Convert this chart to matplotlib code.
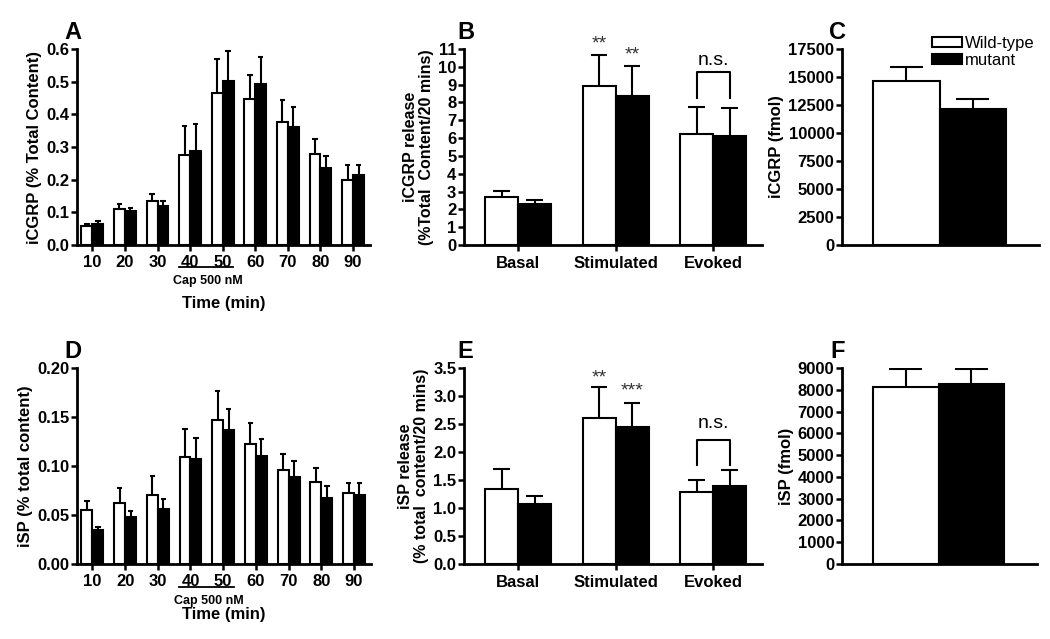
import matplotlib
matplotlib.use("Agg")
import matplotlib.pyplot as plt
import numpy as np
from matplotlib.patches import Patch

plt.rcParams['font.family'] = ['Liberation Sans', 'DejaVu Sans']

# ---------------- data ----------------
time_labels = ["10", "20", "30", "40", "50", "60", "70", "80", "90"]

cgrp_time_wt = [0.057, 0.110, 0.136, 0.275, 0.466, 0.448, 0.378, 0.279, 0.200]
cgrp_time_wt_sem = [0.008, 0.017, 0.020, 0.090, 0.102, 0.072, 0.065, 0.047, 0.046]
cgrp_time_mut = [0.064, 0.105, 0.120, 0.289, 0.501, 0.494, 0.361, 0.237, 0.215]
cgrp_time_mut_sem = [0.009, 0.009, 0.015, 0.082, 0.093, 0.083, 0.062, 0.034, 0.029]

sp_time_wt = [0.055, 0.062, 0.0705, 0.109, 0.147, 0.122, 0.096, 0.0835, 0.072]
sp_time_wt_sem = [0.009, 0.016, 0.0195, 0.029, 0.030, 0.0215, 0.016, 0.0145, 0.011]
sp_time_mut = [0.035, 0.048, 0.0565, 0.107, 0.1365, 0.110, 0.089, 0.067, 0.0705]
sp_time_mut_sem = [0.003, 0.006, 0.0095, 0.022, 0.022, 0.018, 0.0165, 0.013, 0.0125]

conditions = ["Basal", "Stimulated", "Evoked"]
cgrp_rel_wt = [2.68, 8.91, 6.22]
cgrp_rel_wt_sem = [0.35, 1.76, 1.55]
cgrp_rel_mut = [2.32, 8.39, 6.10]
cgrp_rel_mut_sem = [0.19, 1.65, 1.58]
cgrp_rel_stars_wt = ["", "**", ""]
cgrp_rel_stars_mut = ["", "**", ""]

sp_rel_wt = [1.34, 2.61, 1.29]
sp_rel_wt_sem = [0.35, 0.55, 0.21]
sp_rel_mut = [1.08, 2.45, 1.39]
sp_rel_mut_sem = [0.14, 0.43, 0.29]
sp_rel_stars_wt = ["", "**", ""]
sp_rel_stars_mut = ["", "***", ""]

cgrp_content = [14670, 12160]
cgrp_content_sem = [1250, 870]
sp_content = [8115, 8254]
sp_content_sem = [830, 700]

series_labels = ["Wild-type", "mutant"]

# ---------------- figure ----------------
W, H = 1050, 639
fig = plt.figure(figsize=(W / 100, H / 100), dpi=100)


def rect(x0, x1, ytop, ybot):
    return [x0 / W, 1 - ybot / H, (x1 - x0) / W, (ybot - ytop) / H]


LW = 1.5
TICK_FS = 12
LABEL_FS = 12
LETTER_FS = 17
LETTER_Y = 1.085


def style(ax):
    for s in ["top", "right"]:
        ax.spines[s].set_visible(False)
    for s in ["left", "bottom"]:
        ax.spines[s].set_linewidth(2.0)
    ax.tick_params(direction="out", length=4, width=1.8, labelsize=TICK_FS, pad=1.5)
    for lab in ax.get_yticklabels() + ax.get_xticklabels():
        lab.set_fontweight("bold")


def errbars(ax, x, vals, sems, w):
    x = np.asarray(x, float)
    vals = np.asarray(vals, float)
    tops = vals + np.asarray(sems, float)
    ax.vlines(x, vals, tops, color="black", lw=LW, zorder=1)
    ax.hlines(tops, x - w / 4, x + w / 4, color="black", lw=LW, zorder=1)


def grouped(ax, wt, wt_sem, mut, mut_sem, w):
    x = np.arange(len(wt))
    ax.bar(x - w / 2, wt, w, color="white", edgecolor="black", lw=LW, zorder=2)
    ax.bar(x + w / 2, mut, w, color="black", edgecolor="black", lw=LW, zorder=2)
    errbars(ax, x - w / 2, wt, wt_sem, w)
    errbars(ax, x + w / 2, mut, mut_sem, w)
    return x


def letter_text(ax, letter, xfrac):
    ax.text(xfrac, LETTER_Y, letter, transform=ax.transAxes, ha="center",
            va="center", fontsize=LETTER_FS, fontweight="bold")


def time_panel(r, wt, wt_sem, mut, mut_sem, ylim, yticks, fmt, ylabel, letter,
               line_y, cap_y, xlabel_y):
    ax = fig.add_axes(r)
    w = 0.335
    x = grouped(ax, wt, wt_sem, mut, mut_sem, w)
    ax.set_xlim(-0.47, 8.52)
    ax.set_ylim(*ylim)
    ax.set_yticks(yticks)
    ax.set_yticklabels([fmt.format(t) for t in yticks])
    ax.set_xticks(x)
    ax.set_xticklabels(time_labels)
    style(ax)
    ax.tick_params(axis="x", pad=3)
    ax.set_ylabel(ylabel, fontsize=LABEL_FS, fontweight="bold", labelpad=3)
    tr = ax.get_xaxis_transform()
    ax.plot([x[3] - 0.34, x[4] + 0.32], [line_y, line_y], color="black", lw=1.3,
            transform=tr, clip_on=False)
    ax.text((x[3] + x[4]) / 2 + 0.05, cap_y, "Cap 500 nM", transform=tr,
            ha="center", va="center", fontsize=9, fontweight="bold")
    ax.text(0.5, xlabel_y, "Time (min)", transform=ax.transAxes, ha="center",
            va="center", fontsize=LABEL_FS, fontweight="bold")
    letter_text(ax, letter, -0.015)
    return ax


def release_panel(r, wt, wt_sem, mut, mut_sem, ylim, yticks, fmt, ylabel, letter,
                  stars_wt, stars_mut, star_y_wt, star_y_mut, ns_top, ns_leg, ns_text):
    ax = fig.add_axes(r)
    w = 0.338
    x = grouped(ax, wt, wt_sem, mut, mut_sem, w)
    ax.set_xlim(-0.554, 2.50)
    ax.set_ylim(*ylim)
    ax.set_yticks(yticks)
    ax.set_yticklabels([fmt.format(t) for t in yticks])
    ax.set_xticks(x)
    ax.set_xticklabels(conditions)
    style(ax)
    ax.tick_params(axis="x", pad=4)
    ax.set_ylabel(ylabel, fontsize=11.5, fontweight="bold", labelpad=3,
                  linespacing=1.05)
    for i in range(len(x)):
        if stars_wt[i]:
            ax.text(x[i] - w / 2, star_y_wt, stars_wt[i], ha="center", va="center",
                    fontsize=14, color="#333333", clip_on=False)
        if stars_mut[i]:
            ax.text(x[i] + w / 2, star_y_mut, stars_mut[i], ha="center",
                    va="center", fontsize=14, color="#333333", clip_on=False)
    xa, xb = x[2] - w / 2, x[2] + w / 2
    ax.plot([xa, xa, xb, xb], [ns_leg, ns_top, ns_top, ns_leg], color="black",
            lw=LW, clip_on=False)
    ax.text(x[2], ns_text, "n.s.", ha="center", va="center", fontsize=14)
    letter_text(ax, letter, 0.005)
    return ax


def content_panel(r, vals, sems, ylim, yticks, ylabel, letter):
    ax = fig.add_axes(r)
    x = np.arange(len(vals))
    w = 1.0
    ax.bar(x[0], vals[0], w, color="white", edgecolor="black", lw=LW, zorder=2)
    ax.bar(x[1], vals[1], w, color="black", edgecolor="black", lw=LW, zorder=2)
    errbars(ax, x, vals, sems, w)
    ax.set_xlim(-0.97, 2.0)
    ax.set_ylim(*ylim)
    ax.set_yticks(yticks)
    ax.set_xticks([])
    style(ax)
    ax.set_ylabel(ylabel, fontsize=LABEL_FS, fontweight="bold", labelpad=3)
    letter_text(ax, letter, -0.025)
    return ax


time_panel(rect(77, 370, 49, 245), cgrp_time_wt, cgrp_time_wt_sem, cgrp_time_mut,
           cgrp_time_mut_sem, (0, 0.6), np.arange(0, 0.61, 0.1), "{:.1f}",
           "iCGRP (% Total Content)", "A", -0.112, -0.184, -0.296)
time_panel(rect(77, 371, 368, 564), sp_time_wt, sp_time_wt_sem, sp_time_mut,
           sp_time_mut_sem, (0, 0.20), np.arange(0, 0.201, 0.05), "{:.2f}",
           "iSP (% total content)", "D", -0.117, -0.189, -0.26)

release_panel(rect(464, 762, 49, 245), cgrp_rel_wt, cgrp_rel_wt_sem, cgrp_rel_mut,
              cgrp_rel_mut_sem, (0, 11), np.arange(0, 12, 1), "{:d}",
              "iCGRP release\n(%Total  Content/20 mins)", "B",
              cgrp_rel_stars_wt, cgrp_rel_stars_mut, 11.3, 10.66, 9.7, 8.24, 10.35)
release_panel(rect(464, 762, 368, 564), sp_rel_wt, sp_rel_wt_sem, sp_rel_mut,
              sp_rel_mut_sem, (0, 3.5), np.arange(0, 3.51, 0.5), "{:.1f}",
              "iSP release\n(% total  content/20 mins)", "E",
              sp_rel_stars_wt, sp_rel_stars_mut, 3.33, 3.09, 2.21, 1.77, 2.5)

axC = content_panel(rect(842, 1039, 49, 245), cgrp_content, cgrp_content_sem,
                    (0, 17500), np.arange(0, 17501, 2500), "iCGRP (fmol)", "C")
content_panel(rect(842, 1037, 368, 564), sp_content, sp_content_sem,
              (0, 9000), np.arange(0, 9001, 1000), "iSP (fmol)", "F")

handles = [Patch(facecolor="white", edgecolor="black", lw=1.5),
           Patch(facecolor="black", edgecolor="black", lw=1.5)]
axC.legend(handles, series_labels, loc="upper left",
           bbox_to_anchor=(932 / W, 1 - 36 / H), bbox_transform=fig.transFigure,
           frameon=False, fontsize=12, handlelength=1.8, handleheight=0.55,
           handletextpad=0.15, borderpad=0, borderaxespad=0, labelspacing=0.1)

fig.savefig("out.png", dpi=100)
